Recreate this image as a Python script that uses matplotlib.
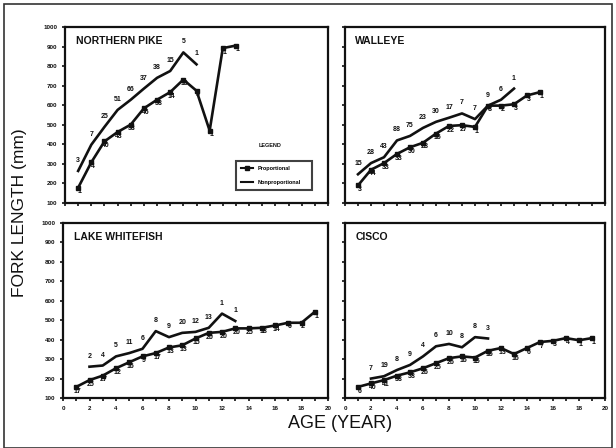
import matplotlib
matplotlib.use("Agg")
import matplotlib.pyplot as plt
from matplotlib.patches import Rectangle
from matplotlib.lines import Line2D

plt.rcParams['font.family'] = ['Liberation Sans', 'DejaVu Sans']

# ---- data: mean fork length (mm) at age, with sample sizes ----
pike_age_np = [1, 2, 3, 4, 5, 6, 7, 8, 9, 10]
pike_len_np = [264, 398, 489, 576, 628, 685, 740, 775, 870, 809]
pike_n_np = ["3", "7", "25", "51", "66", "37", "38", "15", "5", "1"]
pike_age_p = [1, 2, 3, 4, 5, 6, 7, 8, 9, 10, 11, 12, 13]
pike_len_p = [178, 308, 415, 463, 501, 584, 628, 667, 731, 674, 470, 892, 905]
pike_n_p = ["1", "4", "40", "43", "53", "46", "58", "14", "10", "3", "1", "1", "1"]

walleye_age_np = [1, 2, 3, 4, 5, 6, 7, 8, 9, 10, 11, 12, 13]
walleye_len_np = [247, 304, 334, 420, 443, 484, 515, 536, 558, 529, 598, 628, 685]
walleye_n_np = ["15", "28", "43", "88", "75", "23", "30", "17", "7", "7", "9", "6", "1"]
walleye_age_p = [1, 2, 3, 4, 5, 6, 7, 8, 9, 10, 11, 12, 13, 14, 15]
walleye_len_p = [190, 270, 304, 351, 385, 408, 455, 494, 498, 489, 598, 598, 605, 650, 667]
walleye_n_p = ["3", "44", "33", "33", "30", "28", "16", "22", "27", "1", "8", "2", "3", "3", "1"]

whitefish_age_np = [2, 3, 4, 5, 6, 7, 8, 9, 10, 11, 12, 13]
whitefish_len_np = [261, 267, 314, 331, 353, 444, 413, 435, 440, 461, 534, 496]
whitefish_n_np = ["2", "4", "5", "11", "6", "8", "9", "20", "12", "13", "1", "1"]
whitefish_age_p = [1, 2, 3, 4, 5, 6, 7, 8, 9, 10, 11, 12, 13, 14, 15, 16, 17, 18, 19]
whitefish_len_p = [157, 192, 215, 253, 284, 314, 331, 360, 371, 406, 435, 440, 458, 458,
                   461, 473, 487, 487, 543]
whitefish_n_p = ["17", "25", "27", "12", "16", "9", "17", "13", "13", "15", "20", "20", "20",
                 "25", "18", "14", "6", "2", "1"]

cisco_age_np = [2, 3, 4, 5, 6, 7, 8, 9, 10, 11]
cisco_len_np = [200, 212, 244, 270, 314, 366, 378, 361, 413, 406]
cisco_n_np = ["7", "19", "8", "9", "4", "6", "10", "8", "8", "3"]
cisco_age_p = [1, 2, 3, 4, 5, 6, 7, 8, 9, 10, 11, 12, 13, 14, 15, 16, 17, 18, 19]
cisco_len_p = [157, 175, 192, 215, 232, 253, 279, 305, 314, 308, 343, 357, 326, 357,
               388, 394, 408, 397, 408]
cisco_n_p = ["6", "40", "41", "38", "38", "26", "25", "26", "16", "15", "16", "13", "16",
             "6", "7", "3", "4", "1", "1"]

panel_titles = ["NORTHERN PIKE", "WALLEYE", "LAKE WHITEFISH", "CISCO"]
y_ticks = [100, 200, 300, 400, 500, 600, 700, 800, 900, 1000]
x_ticks = [0, 2, 4, 6, 8, 10, 12, 14, 16, 18, 20]

series = [
    (pike_age_np, pike_len_np, pike_n_np, pike_age_p, pike_len_p, pike_n_p),
    (walleye_age_np, walleye_len_np, walleye_n_np, walleye_age_p, walleye_len_p, walleye_n_p),
    (whitefish_age_np, whitefish_len_np, whitefish_n_np,
     whitefish_age_p, whitefish_len_p, whitefish_n_p),
    (cisco_age_np, cisco_len_np, cisco_n_np, cisco_age_p, cisco_len_p, cisco_n_p),
]

W, H = 616, 448
fig = plt.figure(figsize=(W / 100, H / 100), dpi=100)
fig.patch.set_facecolor("white")

# panel boxes in pixel coordinates: (left, top, right, bottom)
boxes = [(65, 27, 328, 203), (345, 27, 605, 203),
         (63, 223, 328, 398), (345, 223, 605, 398)]

INK = "#111111"
for i, (l, t, r, b) in enumerate(boxes):
    ax = fig.add_axes([l / W, 1 - b / H, (r - l) / W, (b - t) / H])
    ax.set_xlim(0, 20)
    ax.set_ylim(100, 1000)
    for s in ax.spines.values():
        s.set_linewidth(1.6)
        s.set_color(INK)
    ax.set_xticks(x_ticks)
    ax.set_xticks(range(0, 21), minor=True)
    ax.set_yticks(y_ticks)
    ax.tick_params(axis="both", which="both", direction="out", length=2.5, width=1.2,
                   colors=INK, labelsize=4.5, pad=3)
    ax.tick_params(axis="x", which="minor", length=2)
    for lab in ax.get_xticklabels() + ax.get_yticklabels():
        lab.set_fontweight("bold")
    if i in (1, 3):
        ax.set_yticklabels([])
    if i in (0, 1):
        ax.set_xticklabels([])

    a1, y1, n1, a2, y2, n2 = series[i]
    ax.plot(a1, y1, color=INK, lw=1.9, zorder=3)
    ax.plot(a2, y2, color=INK, lw=1.9, marker="s", ms=2.4, zorder=3)
    for xa, ya, n in zip(a1, y1, n1):
        ax.annotate(n, (xa, ya), xytext=(0, 5), textcoords="offset points",
                    ha="center", va="bottom", fontsize=5, fontweight="bold", color=INK)
    for xa, ya, n in zip(a2, y2, n2):
        ax.annotate(n, (xa, ya), xytext=(1, -3), textcoords="offset points",
                    ha="center", va="center", fontsize=5, fontweight="bold", color=INK,
                    zorder=4)

    ax.text(0.04, 0.95, panel_titles[i], transform=ax.transAxes, ha="left", va="top",
            fontsize=7.5, fontweight="bold", color=INK)

    if i == 0:
        handles = [Line2D([], [], color=INK, lw=1.5, marker="s", ms=2.5),
                   Line2D([], [], color=INK, lw=1.5)]
        leg = ax.legend(handles, ["Proportional", "Nonproportional"],
                        loc="lower left", bbox_to_anchor=(0.64, 0.06, 0.31, 0.21),
                        mode="expand", frameon=True, fancybox=False,
                        handlelength=2.2, borderpad=0.9, labelspacing=1.5,
                        prop={"weight": "bold", "size": 4})
        leg.get_frame().set_edgecolor(INK)
        leg.get_frame().set_linewidth(1.5)
        ax.text(0.78, 0.31, "LEGEND", transform=ax.transAxes, ha="center", va="bottom",
                fontsize=4, fontweight="bold", color=INK)

fig.text(20 / W, 1 - 213 / H, "FORK LENGTH (mm)", rotation=90, ha="center", va="center",
         fontsize=12.5, color=INK)
fig.text(340 / W, 1 - 423 / H, "AGE (YEAR)", ha="center", va="center",
         fontsize=13, color=INK)

# outer frame of the figure
fig.add_artist(Rectangle((4 / W, 0), 608 / W, 1 - 4 / H, transform=fig.transFigure,
                         fill=False, edgecolor="#333333", lw=1.2))

fig.savefig("out.png", dpi=100)
